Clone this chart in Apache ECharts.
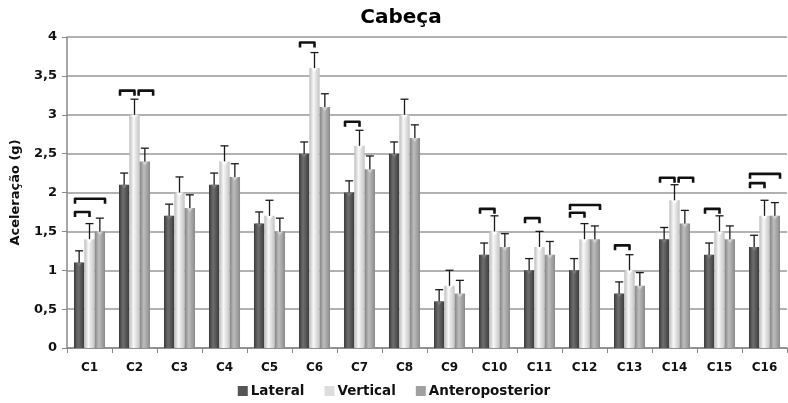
<!DOCTYPE html>
<html><head><meta charset="utf-8">
<script src="https://cdn.jsdelivr.net/npm/echarts@6/dist/echarts.min.js"></script>
<style>html,body{margin:0;padding:0;background:#fff}#c{width:788px;height:403px}</style>
</head><body><div id="c"></div>
<script>
const categories = ['C1','C2','C3','C4','C5','C6','C7','C8','C9','C10','C11','C12','C13','C14','C15','C16'];
const seriesNames = ['Lateral','Vertical','Anteroposterior'];
const lateral = [1.1,2.1,1.7,2.1,1.6,2.5,2.0,2.5,0.6,1.2,1.0,1.0,0.7,1.4,1.2,1.3];
const vertical = [1.4,3.0,2.0,2.4,1.7,3.6,2.6,3.0,0.8,1.5,1.3,1.4,1.0,1.9,1.5,1.7];
const antero = [1.5,2.4,1.8,2.2,1.5,3.1,2.3,2.7,0.7,1.3,1.2,1.4,0.8,1.6,1.4,1.7];
const lateralErrTop = [1.25,2.25,1.85,2.25,1.75,2.65,2.15,2.65,0.75,1.35,1.15,1.15,0.85,1.55,1.35,1.45];
const verticalErrTop = [1.6,3.2,2.2,2.6,1.9,3.8,2.8,3.2,1.0,1.7,1.5,1.6,1.2,2.1,1.7,1.9];
const anteroErrTop = [1.67,2.57,1.97,2.37,1.67,3.27,2.47,2.87,0.87,1.47,1.37,1.57,0.97,1.77,1.57,1.87];
const yTicks = [0,0.5,1,1.5,2,2.5,3,3.5,4];
// significance brackets: [category index, from series, to series, level]
const brackets = [
  [0,0,1,1.75],[0,0,2,1.92],
  [1,0,1,3.31],[1,1,2,3.31],
  [5,0,1,3.93],
  [6,0,1,2.91],
  [9,0,1,1.79],
  [10,0,1,1.67],
  [11,0,1,1.74],[11,0,2,1.84],
  [12,0,1,1.32],
  [13,0,1,2.19],[13,1,2,2.19],
  [14,0,1,1.79],
  [15,0,1,2.12],[15,0,2,2.24]
];

const values = [lateral, vertical, antero];
const errTops = [lateralErrTop, verticalErrTop, anteroErrTop];
const GAP = 0.31;
function grad(a,b,c){
  return {type:'linear',x:0,y:0,x2:1,y2:0,colorStops:[{offset:0,color:a},{offset:0.4,color:b},{offset:1,color:c}]};
}
const colors = [grad('#3a3a3a','#6e6e6e','#3c3c3c'), grad('#bdbdbd','#f7f7f7','#c4c4c4'), grad('#848484','#bdbdbd','#8a8a8a')];
const notchColors = ['#7a7a7a','#ffffff','#cfcfcf'];
const legendColors = ['#555','#ddd','#a0a0a0'];

const errData = [];
values.forEach((arr,s)=>arr.forEach((v,i)=>errData.push([i, errTops[s][i], s, v])));

const chart = echarts.init(document.getElementById('c'), null, {renderer:'canvas'});
const font = '"DejaVu Sans", sans-serif';
const series = seriesNames.map((n,s)=>({
  name:n, type:'bar', data: values[s], barGap:'0%', barCategoryGap:(GAP*100)+'%',
  itemStyle:{color:colors[s]}, emphasis:{disabled:true}
}));
series.push({
  type:'custom', data: errData, z:5, silent:true,
  encode:{x:0,y:1},
  renderItem:function(params, api){
    const cat = api.value(0), top = api.value(1), s = api.value(2), base = api.value(3);
    const band = api.size([1,0])[0];
    const bw = band*(1-GAP)/3;
    const c = api.coord([cat, base]);
    const t = api.coord([cat, top]);
    const x = c[0] - band*(1-GAP)/2 + bw*(s+0.5);
    const cap = 4;
    const tw = bw*0.3;
    return {type:'group', children:[
      {type:'polygon', shape:{points:[[x-tw,c[1]],[x+tw,c[1]],[x,c[1]+4]]}, style:{fill:notchColors[s]}},
      {type:'line', shape:{x1:x,y1:c[1],x2:x,y2:t[1]}, style:{stroke:'#1a1a1a',lineWidth:1.3}},
      {type:'line', shape:{x1:x-cap,y1:t[1],x2:x+cap,y2:t[1]}, style:{stroke:'#1a1a1a',lineWidth:1.3}}
    ]};
  }
});
series.push({
  type:'custom', data: brackets, z:6, silent:true,
  encode:{x:0,y:3},
  renderItem:function(params, api){
    const cat = api.value(0), a = api.value(1), b = api.value(2), lvl = api.value(3);
    const band = api.size([1,0])[0];
    const bw = band*(1-GAP)/3;
    const p = api.coord([cat, lvl]);
    const g0 = p[0] - band*(1-GAP)/2;
    const left = a===0 ? 0.1 : a+0.9;
    const right = (b-a===1) ? left+1.4 : 3.0;
    const xl = g0 + left*bw, xr = g0 + right*bw;
    const d = 5;
    return {type:'polyline', shape:{points:[[xl,p[1]+d],[xl,p[1]],[xr,p[1]],[xr,p[1]+d]]},
      style:{stroke:'#111',lineWidth:2.6,fill:null,lineJoin:'round'}};
  }
});

chart.setOption({
  animation:false,
  backgroundColor:'#fff',
  title:{text:'Cabeça', left:396, textAlign:'center', top:3,
    textStyle:{fontFamily:font, fontWeight:'bold', fontSize:20, color:'#000'}},
  legend:{data:seriesNames.map((n,i)=>({name:n, itemStyle:{color:legendColors[i]}})), bottom:0, left:'center', itemWidth:10, itemHeight:10, itemGap:20,
    icon:'rect', textStyle:{fontFamily:font, fontWeight:'bold', fontSize:13.5, color:'#111', padding:[0,0,0,-2]}},
  grid:{left:67, right:1, top:37, bottom:55, containLabel:false},
  xAxis:{type:'category', data:categories,
    axisLine:{lineStyle:{color:'#888', width:1.5}},
    axisTick:{show:true, length:5, lineStyle:{color:'#888'}},
    axisLabel:{fontFamily:font, fontWeight:'bold', fontSize:12, color:'#111', margin:14}},
  yAxis:{type:'value', min:0, max:4, interval:0.5,
    name:'Aceleração (g)', nameLocation:'middle', nameGap:45,
    nameTextStyle:{fontFamily:font, fontWeight:'bold', fontSize:13, color:'#111'},
    axisLine:{show:true, lineStyle:{color:'#888', width:1.5}},
    axisTick:{show:true, length:5, lineStyle:{color:'#888'}},
    splitLine:{lineStyle:{color:'#999', width:1.5}},
    axisLabel:{fontFamily:font, fontWeight:'bold', fontSize:13, color:'#111', margin:10,
      formatter:v=>String(v).replace('.',',')}},
  series:series
});
</script></body></html>
